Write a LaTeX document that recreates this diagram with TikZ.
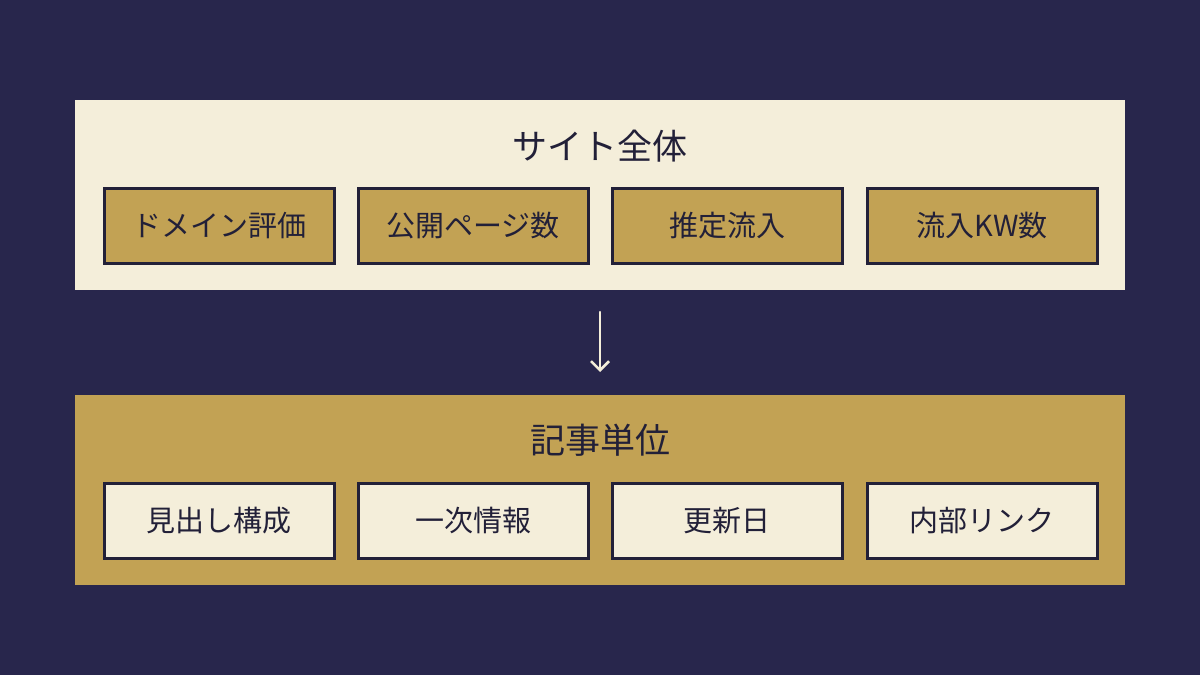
\documentclass[tikz,border=0pt]{standalone}
\usepackage{fontspec}
\setmainfont{Noto Sans CJK JP}
\usetikzlibrary{arrows.meta}
\definecolor{bg}{HTML}{28264C}
\definecolor{cream}{HTML}{F4EEDA}
\definecolor{gold}{HTML}{C2A254}
\definecolor{ink}{HTML}{222038}
\begin{document}
\begin{tikzpicture}[x=1pt,y=-1pt,
  panel/.style={draw=none,minimum width=1050pt,minimum height=190pt,anchor=north west},
  box/.style={draw=ink,line width=2.5pt,minimum width=230pt,minimum height=75pt,anchor=north west,text=ink,font=\fontsize{29}{32}\selectfont},
  title/.style={text=ink,font=\fontsize{35}{40}\selectfont}]
\fill[bg] (0,0) rectangle (1200,675);
\node[panel,fill=cream] (top) at (75,100) {};
\node[panel,fill=gold] (bot) at (75,395) {};
\node[title] (t1) at (600,146) {サイト全体};
\node[title] (t2) at (600,440) {記事単位};
\node[box,fill=gold] (a1) at (103,187) {ドメイン評価};
\node[box,fill=gold] (a2) at (357,187) {公開ページ数};
\node[box,fill=gold] (a3) at (611,187) {推定流入};
\node[box,fill=gold] (a4) at (866,187) {流入KW数};
\node[box,fill=cream] (b1) at (103,482) {見出し構成};
\node[box,fill=cream] (b2) at (357,482) {一次情報};
\node[box,fill=cream] (b3) at (611,482) {更新日};
\node[box,fill=cream] (b4) at (866,482) {内部リンク};
\coordinate (s) at (600,312);
\coordinate (e) at (600,372);
\draw[cream,line width=2.5pt,line cap=round,-{Straight Barb[length=9pt,width=18pt]}] (s) -- (e);
\end{tikzpicture}
\end{document}
